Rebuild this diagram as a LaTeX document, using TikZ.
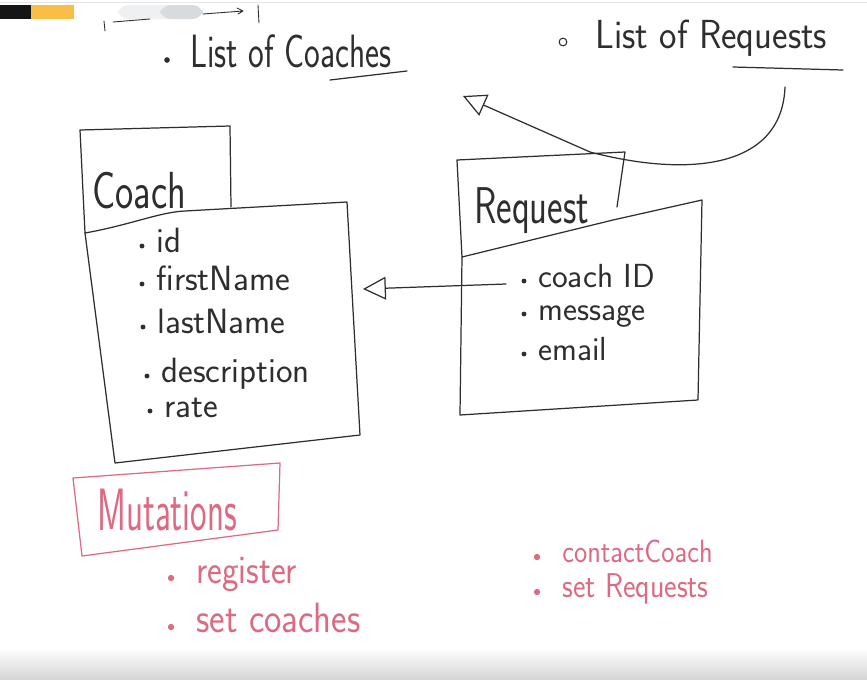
\documentclass[tikz,border=0pt]{standalone}
\usepackage{fontspec}
\usepackage{graphicx}
\usetikzlibrary{arrows.meta, positioning, calc}
\definecolor{ink}{HTML}{2E2E2E}
\definecolor{marker}{HTML}{DD6A82}
\definecolor{barblack}{HTML}{151515}
\definecolor{baryellow}{HTML}{F8BE45}
\definecolor{pilllight}{HTML}{EFF0F2}
\definecolor{pilldark}{HTML}{D8DBDE}
\definecolor{rule}{HTML}{E6E6E6}
\newcommand{\scrawl}[2][1.3]{\scalebox{1}[#1]{#2}}

\begin{document}
\begin{tikzpicture}[
  x=0.02cm, y=-0.02cm,
  pen/.style={draw=ink, line width=0.7pt, line join=round, line cap=round},
  redpen/.style={draw=marker, line width=0.7pt, line join=round, line cap=round},
  title/.style={anchor=base west, inner sep=0pt, text=ink,
                font=\sffamily\fontsize{21}{21}\selectfont},
  field/.style={anchor=base west, inner sep=0pt, text=ink,
                font=\sffamily\fontsize{20}{20}\selectfont},
  note/.style={anchor=base west, inner sep=0pt, text=marker,
               font=\sffamily\fontsize{19}{19}\selectfont},
  arr/.style={pen, -{Triangle[open, length=13pt, width=13pt]}}
]
  \useasboundingbox (0,0) rectangle (867,680);
  \fill[white] (0,0) rectangle (867,680);

  % video player strip
  \fill[rule] (0,2) rectangle (867,3);
  \fill[barblack] (0,5) rectangle (31,19);
  \fill[baryellow] (31,5) rectangle (74,19);
  \fill[pilllight, rounded corners=6pt] (118,5) rectangle (203,19);
  \fill[pilldark, rounded corners=6pt] (160,5) rectangle (203,19);
  \draw[pen, line width=0.5pt] (104,21) -- (105,31);
  \draw[pen, line width=0.5pt] (113,22) -- (150,19);
  \draw[pen, line width=0.5pt] (203,14) -- (243,11) (237,8) -- (243,11) -- (238,14);
  \draw[pen, line width=0.5pt] (258,5) -- (259,23);

  % queries
  \node[title, font=\sffamily\fontsize{19}{19}\selectfont] (lcoach) at (190,67) {\scrawl[1.4]{List of Coaches}};
  \node[title, font=\sffamily\fontsize{21}{21}\selectfont] (lreq) at (595,48) {\scrawl[1.1]{List of Requests}};
  \fill[ink] (167,60) circle (1.6pt);
  \draw[ink, line width=0.6pt] (563,42) circle (2.2pt);
  \draw[pen] (330,80) -- (407,71);
  \draw[pen] (733,67) -- (843,70);
  \coordinate (reqtail) at (785,87);
  \coordinate (coachlist) at (463,96);
  \draw[arr] (reqtail) .. controls (782,168) and (690,178) .. (590,152) -- (coachlist);

  % Coach entity
  \draw[pen] (85,233) -- (80,130) -- (230,126) -- (231,207);
  \draw[pen] (85,233) .. controls (130,225) and (160,212) .. (185,211)
    -- (347,202) -- (360,435) -- (115,463) -- cycle;
  \node[title, font=\sffamily\fontsize{22}{22}\selectfont] (coach) at (92,208) {\scrawl[1.35]{Coach}};
  \foreach \n/\p/\t in {cid/{156,252}/id, cfirst/{156,290}/firstName,
                        clast/{157,333}/lastName, cdesc/{161,382}/description,
                        crate/{164,417}/rate}{
    \node[field] (\n) at (\p) {\t};
    \fill[ink] ($(\n.base west)+(-14,-6)$) circle (1.4pt);
  }
  \coordinate (coachside) at (363,289);

  % Request entity
  \draw[pen] (462,257) -- (457,160) -- (625,152) -- (617,207);
  \draw[pen] (462,257) -- (613,220) -- (702,200) -- (698,400) -- (460,415) -- cycle;
  \node[title] (request) at (474,223) {\scrawl[1.4]{Request}};
  \foreach \n/\p/\t in {rcoach/{538,287}/coach ID, rmsg/{538,320}/message,
                        rmail/{538,360}/email}{
    \node[field, font=\sffamily\fontsize{19}{19}\selectfont] (\n) at (\p) {\t};
    \fill[ink] ($(\n.base west)+(-14,-6)$) circle (1.4pt);
  }
  \draw[arr] ($(rcoach.base west)+(-32,-3)$) -- (coachside);

  % mutations
  \draw[redpen] (73,478) -- (280,463) -- (278,530) -- (82,556) -- cycle;
  \node[note, font=\sffamily\fontsize{20}{20}\selectfont] (mutations) at (97,530) {\scrawl[1.7]{Mutations}};
  \foreach \n/\p/\t/\f in {mreg/{196,583}/register/20, mset/{196,632}/set coaches/21,
                           mcontact/{562,562}/contactCoach/16, mreq/{562,597}/set Requests/17}{
    \node[note, font=\sffamily\fontsize{\f}{\f}\selectfont] (\n) at (\p) {\scrawl[1.15]{\t}};
    \fill[marker] ($(\n.base west)+(-25,-5)$) circle (1.8pt);
  }

  % bottom fade
  \shade[top color=white, bottom color=black!17] (0,648) rectangle (867,680);
\end{tikzpicture}
\end{document}
